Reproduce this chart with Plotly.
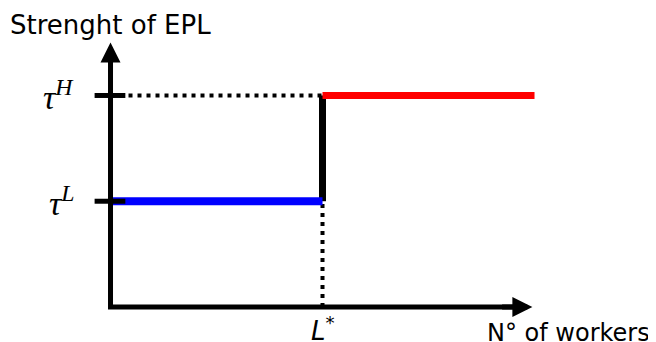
import plotly.graph_objects as go

# Niveaux de protection et seuil de taille
tau_levels = [1, 2]          # tau^L, tau^H
tau_labels = ["<i>τ</i><sup><i>L</i></sup>", "<i>τ</i><sup><i>H</i></sup>"]
L_star = 1
x_max = 2          # fin du segment rouge
x_axis_end = 1.99  # pointe de la flèche horizontale
y_axis_end = 2.5   # pointe de la flèche verticale

low_x = [0, L_star]
low_y = [tau_levels[0], tau_levels[0]]
high_x = [L_star, x_max]
high_y = [tau_levels[1], tau_levels[1]]

fig = go.Figure()

# pointillés
fig.add_trace(go.Scatter(x=[0, L_star], y=[tau_levels[1], tau_levels[1]], mode="lines",
                         line=dict(color="black", width=4, dash="4px,5px")))
fig.add_trace(go.Scatter(x=[L_star, L_star], y=[0, tau_levels[0]], mode="lines",
                         line=dict(color="black", width=4, dash="4px,5px")))

# saut
fig.add_trace(go.Scatter(x=[L_star, L_star], y=tau_levels, mode="lines",
                         line=dict(color="black", width=7)))

# niveaux
fig.add_trace(go.Scatter(x=low_x, y=low_y, mode="lines", line=dict(color="#0000ff", width=8)))
fig.add_trace(go.Scatter(x=high_x, y=high_y, mode="lines", line=dict(color="#ff0000", width=7)))

# petites graduations
for t in tau_levels:
    fig.add_trace(go.Scatter(x=[-0.075, 0.07], y=[t, t], mode="lines",
                             line=dict(color="black", width=5)))

# axes
fig.add_trace(go.Scatter(x=[0, 0, x_axis_end - 0.05], y=[y_axis_end - 0.1, 0, 0], mode="lines",
                         line=dict(color="black", width=5)))
# têtes de flèche
fig.add_annotation(x=0, y=y_axis_end, ax=0, ay=y_axis_end - 0.3, axref="x", ayref="y",
                   showarrow=True, arrowhead=2, arrowwidth=5, arrowsize=0.8, arrowcolor="black", text="")
fig.add_annotation(x=x_axis_end, y=0, ax=x_axis_end - 0.15, ay=0, axref="x", ayref="y",
                   showarrow=True, arrowhead=2, arrowwidth=5, arrowsize=0.8, arrowcolor="black", text="")

for t, lab in zip(tau_levels, tau_labels):
    fig.add_annotation(x=-0.165, y=t, text=lab, showarrow=False, xanchor="right", yanchor="middle",
                       font=dict(family="Liberation Serif", size=34, color="black"))

fig.add_annotation(x=L_star, y=-0.03, text="<i>L</i><sup>*</sup>", showarrow=False,
                   xanchor="center", yanchor="top", font=dict(family="DejaVu Sans", size=26, color="black"))
fig.add_annotation(x=0.994, y=-0.02, xref="paper", yref="paper", text="N° of workers", showarrow=False,
                   xanchor="right", yanchor="bottom", font=dict(family="DejaVu Sans", size=24, color="black"))
fig.add_annotation(x=0, y=1, xref="paper", yref="paper", text="Strenght of EPL", showarrow=False,
                   xanchor="left", yanchor="top", font=dict(family="DejaVu Sans", size=26, color="black"))

fig.update_layout(
    width=648, height=334,
    margin=dict(l=0, r=0, t=0, b=0),
    plot_bgcolor="white", paper_bgcolor="white",
    showlegend=False,
    xaxis=dict(range=[-0.4835, 2.573], visible=False),
    yaxis=dict(range=[-0.331, 2.827], visible=False),
)

fig.write_html("out.html")
